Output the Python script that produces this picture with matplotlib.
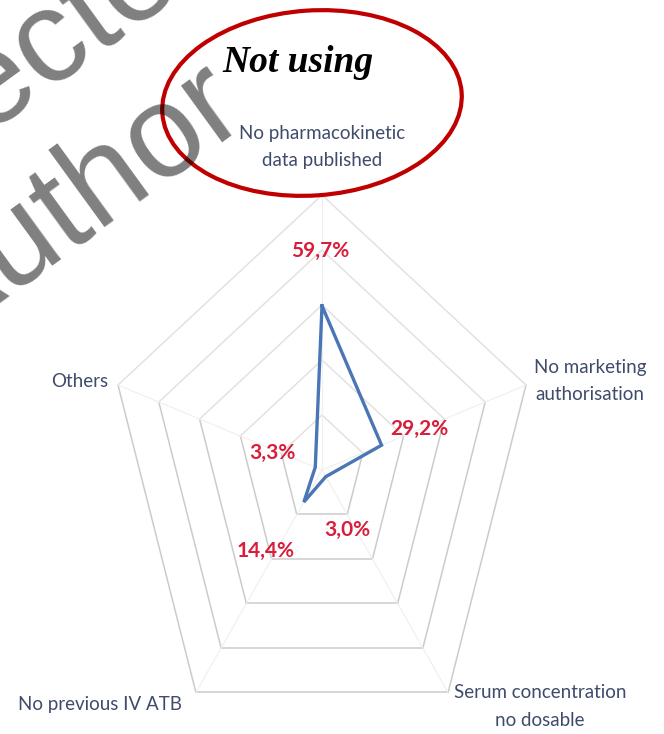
import numpy as np
import matplotlib.pyplot as plt
from matplotlib.patches import Ellipse
from matplotlib.font_manager import FontProperties
from matplotlib.textpath import TextToPath

# reasons for not using the drug (multiple answers, %)
categories = ["No pharmacokinetic\ndata published", "No marketing\nauthorisation",
              "Serum concentration\nno dosable", "No previous IV ATB", "Others"]
values = [59.7, 29.2, 3.0, 14.4, 3.3]
value_labels = ["59,7%", "29,2%", "3,0%", "14,4%", "3,3%"]
rings = [20, 40, 60, 80, 100]

W, H = 664, 734
DPI = 100
CX, CY = 322, 470          # centre of the web, pixels
R_PX = 275                 # pixels for 100 %
SQUASH = 0.78              # the web is narrower than it is tall

LABEL_C = "#3F4B6B"
VALUE_C = "#D81E3A"
LINE_C = "#4A76B5"
GRID_C = "#CBCBCB"
GRID_TOP_C = "#E2E2E2"

plt.rcParams["font.family"] = ["Lato", "DejaVu Sans"]

fig = plt.figure(figsize=(W / DPI, H / DPI), dpi=DPI)

# radar drawn in percent units, axes scaled so that one unit = R_PX/100 px
ax = fig.add_axes([0, 0, 1, 1])
sx = R_PX * SQUASH / 100
sy = R_PX / 100
ax.set_xlim(-CX / sx, (W - CX) / sx)
ax.set_ylim(-(H - CY) / sy, CY / sy)
ax.axis("off")

n = len(categories)
ang = np.arange(n) * 2 * np.pi / n
ux, uy = np.sin(ang), np.cos(ang)

# rings: the two edges meeting at the top vertex come out paler
for r in rings:
    for i in range(n):
        j = (i + 1) % n
        col = GRID_TOP_C if (i == 0 or j == 0) else GRID_C
        ax.plot([ux[i] * r, ux[j] * r], [uy[i] * r, uy[j] * r],
                color=col, lw=1.1, zorder=1, solid_capstyle="round")
for i in range(n):
    ax.plot([0, ux[i] * rings[-1]], [0, uy[i] * rings[-1]],
            color="#EFEFEF", lw=0.8, zorder=1)

v = np.array(values)
ax.plot(np.append(ux * v, ux[0] * v[0]), np.append(uy * v, uy[0] * v[0]),
        color=LINE_C, lw=2.4, solid_joinstyle="miter", zorder=3)

# category names around the web (offsets in pixels from each outer vertex)
cat_off = [(0, 48), (64, 4), (92, -14), (-96, -12), (-38, 4)]
for i, name in enumerate(categories):
    ax.annotate(name, (ux[i] * rings[-1], uy[i] * rings[-1]),
                xytext=cat_off[i], textcoords="offset pixels",
                ha="center", va="center", fontsize=13.5, color=LABEL_C,
                linespacing=1.75, zorder=4)

# data labels
val_off = [(-2, 55), (38, 16), (22, -53), (-38, -49), (-43, 14)]
for i, lab in enumerate(value_labels):
    ax.annotate(lab, (ux[i] * values[i], uy[i] * values[i]),
                xytext=val_off[i], textcoords="offset pixels",
                ha="center", va="center", fontsize=15, color=VALUE_C,
                fontweight="bold", zorder=4)

# overlay in pixel coordinates: highlight ellipse and watermark
ov = fig.add_axes([0, 0, 1, 1])
ov.set_xlim(0, W)
ov.set_ylim(H, 0)
ov.axis("off")
ov.patch.set_alpha(0)

ov.add_patch(Ellipse((312, 103), 300, 185, angle=-4, fill=False,
                     edgecolor="#C00000", lw=3))
ov.text(298, 62, "Not using", family="Liberation Serif", fontsize=27,
        fontweight="bold", fontstyle="italic", ha="center", va="center",
        color="black")

WM_ANGLE = 36
WM_SIZE = 94
wm_prop = FontProperties(family="Liberation Sans", size=WM_SIZE)
t2p = TextToPath()


def wm_start(text, idx, target):
    """Baseline start so that character text[idx] is centred on target (px)."""
    w_pre = t2p.get_text_width_height_descent(text[:idx], wm_prop, ismath=False)[0]
    w_ch, h_ch, d_ch = t2p.get_text_width_height_descent(text[idx], wm_prop, ismath=False)
    along = (w_pre + w_ch / 2) * DPI / 72
    up = (h_ch - d_ch) / 2 * DPI / 72
    a = np.radians(WM_ANGLE)
    dx, dy = np.cos(a), -np.sin(a)        # baseline direction, y down
    px, py = -np.sin(a), -np.cos(a)       # glyph "up" direction, y down
    return target[0] - along * dx - up * px, target[1] - along * dy - up * py


wm = dict(fontproperties=wm_prop, color="black", alpha=0.5,
          rotation=WM_ANGLE, rotation_mode="anchor", ha="left",
          va="baseline", clip_on=False)
for text, idx, target in [("Uncorrected", 7, (50, 40)), ("Author", 4, (166, 140))]:
    ov.text(*wm_start(text, idx, target), text, **wm)

fig.savefig("out.png", dpi=DPI)
